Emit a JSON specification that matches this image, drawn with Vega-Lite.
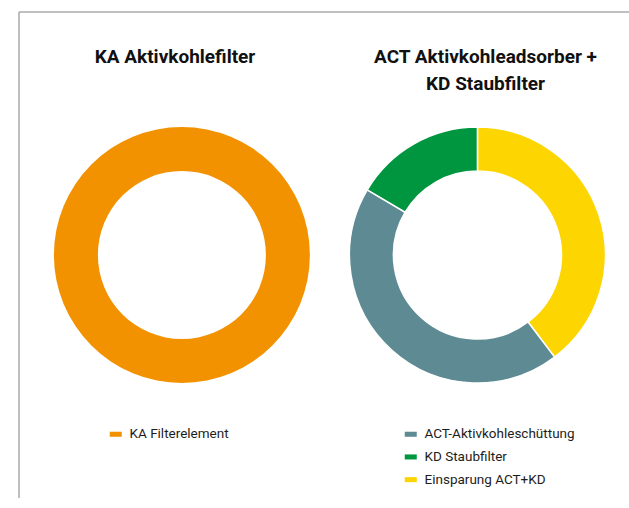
{
  "$schema": "https://vega.github.io/schema/vega-lite/v6.json",
  "width": 610,
  "height": 486,
  "autosize": "none",
  "padding": {"left": 19, "top": 12, "right": 0, "bottom": 0},
  "background": "white",
  "view": {"stroke": "#ababab", "strokeWidth": 1.5, "strokeDash": [610, 1096, 486, 0]},
  "datasets": {
    "parts": [
      {"chart": "KA", "item": "KA Filterelement", "value": 100, "ord": 1},
      {"chart": "ACT", "item": "Einsparung ACT+KD", "value": 39.7, "ord": 1},
      {"chart": "ACT", "item": "ACT-Aktivkohleschüttung", "value": 43.8, "ord": 2},
      {"chart": "ACT", "item": "KD Staubfilter", "value": 16.5, "ord": 3}
    ],
    "titles": [
      {"chart": "KA", "title": "KA Aktivkohlefilter"},
      {"chart": "ACT", "title": "ACT Aktivkohleadsorber +\nKD Staubfilter"}
    ]
  },
  "layer": [
    {
      "data": {"name": "parts"},
      "transform": [{"filter": "datum.chart === 'KA'"}],
      "mark": {"type": "arc", "outerRadius": 128, "innerRadius": 84},
      "encoding": {
        "x": {"field": "chart", "type": "nominal", "axis": null,
              "scale": {"type": "point", "domain": ["KA", "ACT"], "padding": 0.532, "align": 0.518}},
        "theta": {"field": "value", "type": "quantitative", "stack": true},
        "order": {"field": "ord"},
        "color": {"field": "item", "type": "nominal",
          "scale": {"domain": ["KA Filterelement"], "range": ["#F39200"]},
          "legend": {"orient": "none", "legendX": 90, "legendY": 415.5, "title": null, "padding": 0,
            "symbolType": "M-1,-0.42L1,-0.42L1,0.42L-1,0.42Z", "symbolSize": 144, "symbolStrokeWidth": 0,
            "labelFont": "Roboto", "labelFontSize": 13.5, "labelColor": "#1d1d1b", "labelOffset": 7, "labelLimit": 300, "rowPadding": 7.7}}
      }
    },
    {
      "data": {"name": "parts"},
      "transform": [{"filter": "datum.chart === 'ACT'"}],
      "mark": {"type": "arc", "outerRadius": 128, "innerRadius": 84, "stroke": "white", "strokeWidth": 1.5},
      "encoding": {
        "x": {"field": "chart", "type": "nominal", "axis": null,
              "scale": {"type": "point", "domain": ["KA", "ACT"], "padding": 0.532, "align": 0.518}},
        "theta": {"field": "value", "type": "quantitative", "stack": true},
        "order": {"field": "ord"},
        "color": {"field": "item", "type": "nominal",
          "scale": {"domain": ["ACT-Aktivkohleschüttung", "KD Staubfilter", "Einsparung ACT+KD"], "range": ["#5E8A94", "#00963F", "#FDD500"]},
          "legend": {"orient": "none", "legendX": 385, "legendY": 415.5, "title": null, "padding": 0,
            "symbolType": "M-1,-0.42L1,-0.42L1,0.42L-1,0.42Z", "symbolSize": 144, "symbolStrokeWidth": 0,
            "labelFont": "Roboto", "labelFontSize": 13.5, "labelColor": "#1d1d1b", "labelOffset": 7, "labelLimit": 300, "rowPadding": 7.7}}
      }
    },
    {
      "data": {"name": "titles"},
      "mark": {"type": "text", "font": "Roboto", "fontWeight": "bold", "fontSize": 19,
               "lineBreak": "\n", "lineHeight": 26.7, "baseline": "top", "align": "center", "color": "#111111"},
      "encoding": {
        "x": {"field": "chart", "type": "nominal", "axis": null,
              "scale": {"type": "point", "domain": ["KA", "ACT"], "padding": 0.4823, "align": 0.5209}},
        "y": {"datum": "title", "type": "nominal", "axis": null,
              "scale": {"type": "point", "domain": ["title"], "padding": 0, "align": 0.0747}},
        "text": {"field": "title"}
      }
    }
  ],
  "resolve": {"scale": {"x": "independent", "theta": "independent", "color": "independent"}}
}
